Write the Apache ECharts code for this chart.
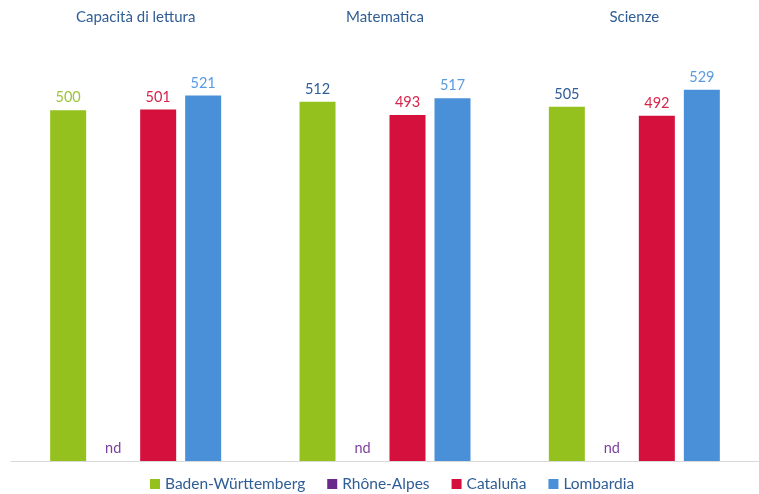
<!DOCTYPE html>
<html lang="it">
<head>
<meta charset="utf-8">
<script src="https://cdn.jsdelivr.net/npm/echarts@6/dist/echarts.min.js"></script>
<title>OCSE PISA</title>
</head>
<body style="margin:0;background:#fff">
<div id="main" style="width:759px;height:494px"></div>
<script>
// dati
var categorie = ['Capacità di lettura', 'Matematica', 'Scienze'];
var badenWurttemberg = [500, 512, 505];
var rhoneAlpes = [null, null, null]; // nd
var cataluna = [501, 493, 492];
var lombardia = [521, 517, 529];
// colori delle etichette (come nell'originale)
var coloriBaden = ['#9dc33b', '#2f5d95', '#2f5d95'];

var myChart = echarts.init(document.getElementById('main'));
var font = 'Lato, "Open Sans", sans-serif';

function etichetta(colore) {
    return { show: true, position: 'top', distance: 5, color: colore, fontSize: 14.5, fontFamily: font };
}

var option = {
    animation: false,
    textStyle: { fontFamily: font },
    legend: {
        bottom: -3,
        left: 145,
        itemWidth: 10,
        itemHeight: 10,
        itemGap: 22,
        icon: 'rect',
        textStyle: { color: '#2f5d95', fontSize: 15.5, fontFamily: font }
    },
    grid: { left: 11, right: 0, top: 40, bottom: 33 },
    xAxis: [{
        type: 'category',
        data: categorie,
        position: 'bottom',
        axisLine: { lineStyle: { color: '#d9d9d9', width: 1 } },
        axisTick: { show: false },
        axisLabel: { show: false }
    }, {
        type: 'category',
        data: categorie,
        position: 'top',
        axisLine: { show: false },
        axisTick: { show: false },
        axisLabel: { color: '#2f5d95', fontSize: 15, margin: 15, fontFamily: font }
    }],
    yAxis: { type: 'value', min: 0, max: 600, show: false, splitLine: { show: false } },
    series: [{
        name: 'Baden-Württemberg',
        type: 'bar',
        barWidth: 36,
        barGap: '25%',
        itemStyle: { color: '#95c11f' },
        data: badenWurttemberg.map(function (v, i) {
            return { value: v, label: etichetta(coloriBaden[i]) };
        })
    }, {
        name: 'Rhône-Alpes',
        type: 'bar',
        barWidth: 36,
        itemStyle: { color: '#6a2a8c' },
        data: rhoneAlpes.map(function (v) {
            return { value: v == null ? 0 : v, label: Object.assign(etichetta('#7b3f9e'), { formatter: v == null ? 'nd' : '{c}' }) };
        })
    }, {
        name: 'Cataluña',
        type: 'bar',
        barWidth: 36,
        itemStyle: { color: '#d6103c' },
        label: etichetta('#d6254a'),
        data: cataluna
    }, {
        name: 'Lombardia',
        type: 'bar',
        barWidth: 36,
        itemStyle: { color: '#4a90d9' },
        label: etichetta('#5b9be0'),
        data: lombardia
    }]
};
myChart.setOption(option);
</script>
</body>
</html>
